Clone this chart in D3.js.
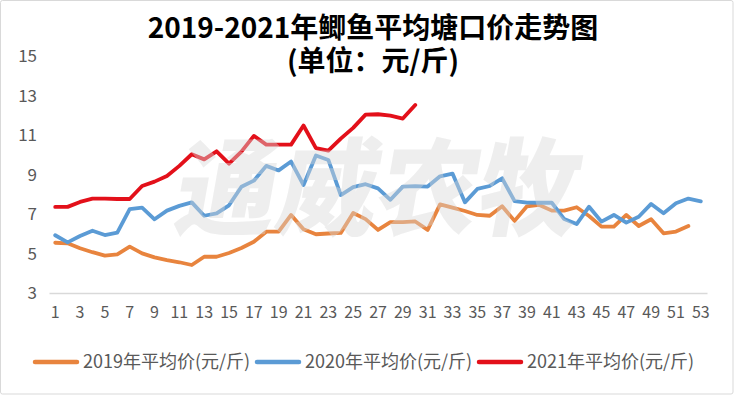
<!DOCTYPE html>
<html>
<head>
<meta charset="utf-8">
<script src="https://cdn.jsdelivr.net/npm/d3@7"></script>
<style>
  body { margin: 0; background: #fff; }
  text { font-family: "Noto Sans CJK SC", "Noto Sans", sans-serif; }
</style>
</head>
<body>
<div id="chartDiv"></div>
<script>
//--------------------------------------------------------------------------------
// week numbers, tick labels and the three yearly series (元/斤)
var weeks = d3.range(1, 54);
var xTickLabels = d3.range(1, 54, 2);
var yTickValues = [3, 5, 7, 9, 11, 13, 15];

var price2019 = [5.55, 5.52, 5.27, 5.07, 4.90, 4.96, 5.35, 5.01, 4.81, 4.67,
                 4.56, 4.42, 4.84, 4.84, 5.03, 5.28, 5.60, 6.11, 6.11, 6.96,
                 6.24, 5.98, 6.02, 6.05, 7.06, 6.75, 6.20, 6.60, 6.60, 6.63,
                 6.20, 7.50, 7.33, 7.16, 6.96, 6.92, 7.40, 6.66, 7.40, 7.47,
                 7.18, 7.18, 7.35, 6.91, 6.37, 6.37, 6.96, 6.40, 6.74, 6.03,
                 6.12, 6.40];

var price2020 = [5.93, 5.57, 5.89, 6.16, 5.94, 6.06, 7.26, 7.33, 6.74, 7.18,
                 7.42, 7.60, 6.92, 7.04, 7.45, 8.39, 8.70, 9.45, 9.22, 9.67,
                 8.48, 9.98, 9.75, 7.97, 8.37, 8.52, 8.31, 7.73, 8.40, 8.42,
                 8.40, 8.92, 9.06, 7.60, 8.28, 8.43, 8.82, 7.66, 7.59, 7.58,
                 7.58, 6.75, 6.50, 7.38, 6.62, 6.96, 6.57, 6.87, 7.52, 7.05,
                 7.55, 7.79, 7.65];

var price2021 = [7.37, 7.37, 7.62, 7.79, 7.79, 7.77, 7.77, 8.43, 8.65, 8.94,
                 9.45, 10.04, 9.78, 10.19, 9.56, 10.17, 10.97, 10.53, 10.53, 10.53,
                 11.50, 10.35, 10.22, 10.83, 11.38, 12.05, 12.07, 12.00, 11.85, 12.54];

var seriesNames = ["2019年平均价(元/斤)", "2020年平均价(元/斤)", "2021年平均价(元/斤)"];
var seriesColors = ["#E8843E", "#5B9BD5", "#E3101A"];

//--------------------------------------------------------------------------------
var PriceChart = {

    width: 734,
    height: 396,
    svg: null,
    xScale: null,
    yScale: null,

//--------------------------------------------------------------------------------
init: function () {

   this.svg = d3.select("#chartDiv")
       .append("svg")
       .attr("width", this.width)
       .attr("height", this.height);

     // light frame round the whole picture
   this.svg.append("rect")
       .attr("x", 0.5).attr("y", 0.5)
       .attr("width", this.width - 1.5).attr("height", this.height - 2.5)
       .attr("rx", 2)
       .attr("fill", "#fff")
       .attr("stroke", "#d9d9d9");

   this.xScale = d3.scaleBand()
       .domain(weeks)
       .range([49, 707]);

   this.yScale = d3.scaleLinear()
       .domain([3, 15])
       .range([293, 56.5]);

}, // init
//--------------------------------------------------------------------------------
drawTitle: function () {

   var lines = ["2019-2021年鲫鱼平均塘口价走势图", "(单位：元/斤)"];
   var baselines = [38, 71];

   this.svg.selectAll("text.title")
       .data(lines)
       .enter()
       .append("text")
       .attr("class", "title")
       .attr("x", 373)
       .attr("y", function(d, i){ return baselines[i]; })
       .attr("text-anchor", "middle")
       .attr("font-size", 28)
       .attr("font-weight", 700)
       .attr("fill", "#000")
       .text(function(d){ return d; });

}, // drawTitle
//--------------------------------------------------------------------------------
drawAxes: function () {

   var yAxis = d3.axisLeft(this.yScale)
       .tickValues(yTickValues)
       .tickSize(0)
       .tickPadding(0);

   var gy = this.svg.append("g")
       .attr("transform", "translate(37,0)")
       .call(yAxis);
   gy.select(".domain").remove();
   gy.selectAll("text")
       .attr("font-size", 17)
       .attr("fill", "#595959")
       .style("font-family", "'Noto Sans CJK SC', sans-serif");

   var xAxis = d3.axisBottom(this.xScale)
       .tickValues(xTickLabels)
       .tickSize(0)
       .tickPadding(14);

   var gx = this.svg.append("g")
       .attr("transform", "translate(0,293)")
       .call(xAxis);
   gx.select(".domain")
       .attr("stroke", "#d9d9d9")
       .attr("stroke-width", 1.5);
   gx.selectAll("text")
       .attr("font-size", 16)
       .attr("fill", "#595959")
       .style("font-family", "'Noto Sans CJK SC', sans-serif");

}, // drawAxes
//--------------------------------------------------------------------------------
drawLines: function () {

   var self = this;
   var allSeries = [price2019, price2020, price2021];

   var line = d3.line()
       .x(function(d, i){ return self.xScale(weeks[i]) + self.xScale.bandwidth() / 2; })
       .y(function(d){ return self.yScale(d); });

   this.svg.selectAll("path.series")
       .data(allSeries)
       .enter()
       .append("path")
       .attr("class", "series")
       .attr("d", line)
       .attr("fill", "none")
       .attr("stroke", function(d, i){ return seriesColors[i]; })
       .attr("stroke-width", 3.8)
       .attr("stroke-linejoin", "round")
       .attr("stroke-linecap", "round");

}, // drawLines
//--------------------------------------------------------------------------------
drawWatermark: function () {

     // the faint company mark laid over the plot
   this.svg.append("text")
       .attr("transform", "translate(373,227) skewX(-10) scale(0.95,1)")
       .attr("text-anchor", "middle")
       .attr("font-size", 106)
       .attr("font-weight", 900)
       .attr("fill", "#d8d8d8")
       .attr("opacity", 0.42)
       .text("通威农牧");

}, // drawWatermark
//--------------------------------------------------------------------------------
drawLegend: function () {

   var itemX = [35, 257, 479];

   var items = this.svg.selectAll("g.legendItem")
       .data(seriesNames)
       .enter()
       .append("g")
       .attr("class", "legendItem")
       .attr("transform", function(d, i){ return "translate(" + itemX[i] + ",362)"; });

   items.append("line")
       .attr("x1", 0).attr("x2", 42)
       .attr("stroke", function(d, i){ return seriesColors[i]; })
       .attr("stroke-width", 4.5)
       .attr("stroke-linecap", "round");

   items.append("text")
       .attr("x", 48)
       .attr("dy", "0.35em")
       .attr("font-size", 18)
       .attr("fill", "#595959")
       .text(function(d){ return d; });

}, // drawLegend
//--------------------------------------------------------------------------------
}
//--------------------------------------------------------------------------------
PriceChart.init();
PriceChart.drawTitle();
PriceChart.drawAxes();
PriceChart.drawLines();
PriceChart.drawWatermark();
PriceChart.drawLegend();
//--------------------------------------------------------------------------------
</script>
</body>
</html>
